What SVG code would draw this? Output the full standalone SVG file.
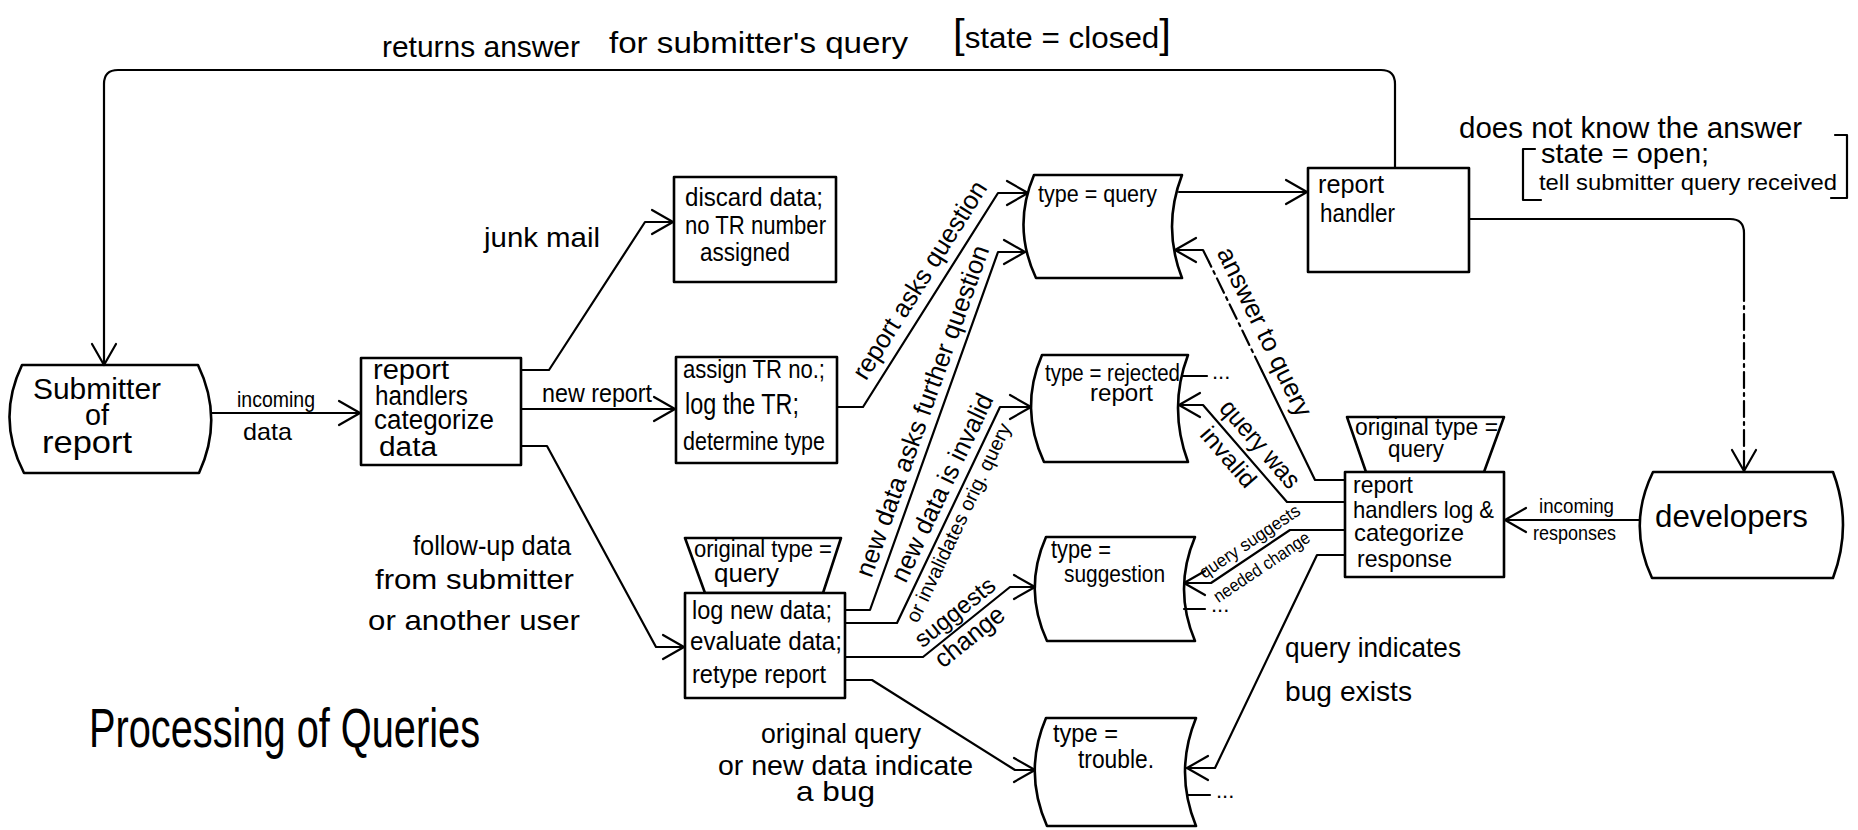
<svg xmlns="http://www.w3.org/2000/svg" width="1858" height="830" viewBox="0 0 1858 830">
<defs>
<style>
  text{font-family:"Liberation Sans",Arial,sans-serif;fill:#000}
  .ln{fill:none;stroke:#000;stroke-width:2.2;stroke-linejoin:round;stroke-linecap:round}
  .dd{stroke-dasharray:16 5 3 5}
  .bx{fill:#fff;stroke:#000;stroke-width:2.6;stroke-linejoin:round}
  .a{marker-end:url(#arr)}
  .s18{font-size:18px}.s20{font-size:20px}.s22{font-size:22px}.s23{font-size:23px}.s24{font-size:24px}
  .s25{font-size:25px}.s26{font-size:26px}.s27{font-size:27px}.s28{font-size:28px}.s30{font-size:30px}
  .s32{font-size:32px}.s56{font-size:56px}
</style>
<marker id="arr" viewBox="-24 -15 28 30" refX="0" refY="0" markerWidth="28" markerHeight="30" markerUnits="userSpaceOnUse" orient="auto">
  <path d="M-21,-12 L0,0 L-21,12" fill="none" stroke="#000" stroke-width="2.2" stroke-linejoin="round" stroke-linecap="round"/>
</marker>
</defs>
<rect width="1858" height="830" fill="#fff"/>

<!-- nodes -->
<g id="submitter">
  <path class="bx" d="M22,365 H198 Q224,419 199,473 H24 Q-4,419 22,365 Z"/>
  <text class="s30" x="33" y="399" textLength="128" lengthAdjust="spacingAndGlyphs">Submitter</text>
  <text class="s30" x="85" y="425" textLength="24" lengthAdjust="spacingAndGlyphs">of</text>
  <text class="s32" x="42" y="453" textLength="90" lengthAdjust="spacingAndGlyphs">report</text>
</g>

<g id="categorize">
  <rect class="bx" x="361" y="358" width="160" height="107"/>
  <text class="s27" x="373" y="379" textLength="76" lengthAdjust="spacingAndGlyphs">report</text>
  <text class="s27" x="375" y="405" textLength="93" lengthAdjust="spacingAndGlyphs">handlers</text>
  <text class="s27" x="374" y="429" textLength="120" lengthAdjust="spacingAndGlyphs">categorize</text>
  <text class="s27" x="379" y="456" textLength="58" lengthAdjust="spacingAndGlyphs">data</text>
</g>

<g id="discard">
  <rect class="bx" x="674" y="177" width="162" height="105"/>
  <text class="s25" x="685" y="206" textLength="138" lengthAdjust="spacingAndGlyphs">discard data;</text>
  <text class="s25" x="685" y="234" textLength="141" lengthAdjust="spacingAndGlyphs">no TR number</text>
  <text class="s25" x="700" y="261" textLength="90" lengthAdjust="spacingAndGlyphs">assigned</text>
</g>

<g id="assign">
  <rect class="bx" x="676" y="357" width="161" height="106"/>
  <text class="s25" x="683" y="378" textLength="142" lengthAdjust="spacingAndGlyphs">assign TR no.;</text>
  <text class="s30" x="685" y="414" textLength="114" lengthAdjust="spacingAndGlyphs">log the TR;</text>
  <text class="s25" x="683" y="450" textLength="142" lengthAdjust="spacingAndGlyphs">determine type</text>
</g>

<g id="log-new-data">
  <path class="bx" d="M685,538 H841 L823,593 H705 Z"/>
  <text class="s23" x="694" y="557" textLength="138" lengthAdjust="spacingAndGlyphs">original type =</text>
  <text class="s25" x="714" y="582" textLength="65" lengthAdjust="spacingAndGlyphs">query</text>
  <rect class="bx" x="685" y="593" width="160" height="105"/>
  <text class="s26" x="692" y="619" textLength="140" lengthAdjust="spacingAndGlyphs">log new data;</text>
  <text class="s26" x="690" y="650" textLength="152" lengthAdjust="spacingAndGlyphs">evaluate data;</text>
  <text class="s26" x="692" y="683" textLength="134" lengthAdjust="spacingAndGlyphs">retype report</text>
</g>

<g id="type-query">
  <path class="bx" d="M1034,175 H1182 Q1162,227 1182,278 H1036 Q1012,227 1034,175 Z"/>
  <text class="s24" x="1038" y="202" textLength="119" lengthAdjust="spacingAndGlyphs">type = query</text>
</g>

<g id="type-rejected">
  <path class="bx" d="M1042,355 H1188 Q1168,408 1188,462 H1044 Q1019,408 1042,355 Z"/>
  <text class="s23" x="1045" y="381" textLength="135" lengthAdjust="spacingAndGlyphs">type = rejected</text>
  <text class="s23" x="1090" y="401" textLength="63" lengthAdjust="spacingAndGlyphs">report</text>
  <path class="ln" d="M1183,376 H1207"/>
  <text class="s22" x="1212" y="379">...</text>
</g>

<g id="type-suggestion">
  <path class="bx" d="M1046,537 H1195 Q1173,589 1195,641 H1047 Q1023,589 1046,537 Z"/>
  <text class="s26" x="1051" y="558" textLength="60" lengthAdjust="spacingAndGlyphs">type =</text>
  <text class="s24" x="1064" y="582" textLength="101" lengthAdjust="spacingAndGlyphs">suggestion</text>
  <path class="ln" d="M1184,609 H1205"/>
  <text class="s22" x="1211" y="612">...</text>
</g>

<g id="type-trouble">
  <path class="bx" d="M1046,718 H1196 Q1174,772 1196,826 H1047 Q1023,772 1046,718 Z"/>
  <text class="s26" x="1053" y="742" textLength="65" lengthAdjust="spacingAndGlyphs">type =</text>
  <text class="s26" x="1078" y="768" textLength="76" lengthAdjust="spacingAndGlyphs">trouble.</text>
  <path class="ln" d="M1188,795 H1210"/>
  <text class="s22" x="1216" y="798">...</text>
</g>

<g id="report-handler">
  <rect class="bx" x="1308" y="168" width="161" height="104"/>
  <text class="s26" x="1318" y="193" textLength="66" lengthAdjust="spacingAndGlyphs">report</text>
  <text class="s26" x="1320" y="222" textLength="75" lengthAdjust="spacingAndGlyphs">handler</text>
</g>

<g id="handlers-log-response">
  <path class="bx" d="M1347,417 H1504 L1484,472 H1366 Z"/>
  <text class="s23" x="1355" y="435" textLength="143" lengthAdjust="spacingAndGlyphs">original type =</text>
  <text class="s23" x="1388" y="457" textLength="56" lengthAdjust="spacingAndGlyphs">query</text>
  <rect class="bx" x="1345" y="472" width="159" height="105"/>
  <text class="s24" x="1353" y="493" textLength="60" lengthAdjust="spacingAndGlyphs">report</text>
  <text class="s24" x="1353" y="518" textLength="141" lengthAdjust="spacingAndGlyphs">handlers log &amp;</text>
  <text class="s24" x="1354" y="541" textLength="110" lengthAdjust="spacingAndGlyphs">categorize</text>
  <text class="s24" x="1357" y="567" textLength="95" lengthAdjust="spacingAndGlyphs">response</text>
</g>

<g id="developers">
  <path class="bx" d="M1653,472 H1833 Q1853,525 1833,578 H1652 Q1627,525 1653,472 Z"/>
  <text class="s32" x="1655" y="527" textLength="153" lengthAdjust="spacingAndGlyphs">developers</text>
</g>

<!-- connectors -->
<g id="connectors">
  <path class="ln a" d="M1395,168 V84 Q1395,70 1381,70 H118 Q104,70 104,84 V365"/>
  <path class="ln a" d="M211,413 H360"/>
  <path class="ln a" d="M521,370 H549 L645,222 H673"/>
  <path class="ln a" d="M521,409 H675"/>
  <path class="ln a" d="M521,446 H547 L656,647 H684"/>
  <path class="ln a" d="M837,407 H863 L998,193 H1028"/>
  <path class="ln a" d="M845,610 H870 L998,252 H1025"/>
  <path class="ln a" d="M845,623 H897 L1000,407 H1031"/>
  <path class="ln a" d="M845,657 H923 L1010,587 H1035"/>
  <path class="ln a" d="M845,680 H872 L1015,770 H1035"/>
  <path class="ln a" d="M1179,192 H1307"/>
  <path class="ln" d="M1469,219 H1730 Q1744,219 1744,233 V285"/>
  <path class="ln dd" d="M1744,285 V452"/>
  <path class="ln a" d="M1744,452 V471"/>
  <path class="ln a" d="M1640,520 H1505"/>
  <path class="ln" d="M1345,480 H1315 L1262,371"/>
  <path class="ln dd" d="M1262,371 L1209,262"/>
  <path class="ln a" d="M1209,262 L1203,250 H1175"/>
  <path class="ln a" d="M1345,502 H1287 L1203,405 H1179"/>
  <path class="ln a" d="M1345,530 H1290 L1211,583 H1184"/>
  <path class="ln a" d="M1345,555 H1317 L1215,768 H1187"/>
</g>

<!-- connector labels -->
<g id="labels">
  <text class="s30" x="382" y="57" textLength="198" lengthAdjust="spacingAndGlyphs">returns answer</text>
  <text class="s30" x="609" y="53" textLength="299" lengthAdjust="spacingAndGlyphs">for submitter's query</text>
  <text class="s30" x="953" y="48" textLength="218" lengthAdjust="spacingAndGlyphs"><tspan font-size="40">[</tspan>state = closed<tspan font-size="40">]</tspan></text>
  <text class="s28" x="484" y="247" textLength="116" lengthAdjust="spacingAndGlyphs">junk mail</text>
  <text class="s22" x="237" y="407" textLength="78" lengthAdjust="spacingAndGlyphs">incoming</text>
  <text class="s24" x="243" y="440" textLength="49" lengthAdjust="spacingAndGlyphs">data</text>
  <text class="s26" x="542" y="402" textLength="110" lengthAdjust="spacingAndGlyphs">new report</text>
  <text class="s28" x="413" y="555" textLength="158" lengthAdjust="spacingAndGlyphs">follow-up data</text>
  <text class="s28" x="375" y="589" textLength="199" lengthAdjust="spacingAndGlyphs">from submitter</text>
  <text class="s28" x="368" y="630" textLength="212" lengthAdjust="spacingAndGlyphs">or another user</text>
  <text class="s28" x="761" y="743" textLength="160" lengthAdjust="spacingAndGlyphs">original query</text>
  <text class="s28" x="718" y="775" textLength="255" lengthAdjust="spacingAndGlyphs">or new data indicate</text>
  <text class="s28" x="796" y="801" textLength="79" lengthAdjust="spacingAndGlyphs">a bug</text>
  <text class="s28" x="1285" y="657" textLength="176" lengthAdjust="spacingAndGlyphs">query indicates</text>
  <text class="s28" x="1285" y="701" textLength="127" lengthAdjust="spacingAndGlyphs">bug exists</text>
  <text class="s30" x="1459" y="138" textLength="343" lengthAdjust="spacingAndGlyphs">does not know the answer</text>
  <text class="s28" x="1541" y="163" textLength="168" lengthAdjust="spacingAndGlyphs">state = open;</text>
  <text class="s22" x="1539" y="190" textLength="298" lengthAdjust="spacingAndGlyphs">tell submitter query received</text>
  <path class="ln" d="M1535,149 H1523 V200 H1541"/>
  <path class="ln" d="M1835,135 H1847 V198 H1831"/>
  <text class="s20" x="1539" y="513" textLength="75" lengthAdjust="spacingAndGlyphs">incoming</text>
  <text class="s20" x="1533" y="540" textLength="83" lengthAdjust="spacingAndGlyphs">responses</text>

  <text class="s26" transform="translate(866,381.6) rotate(-57.8)" textLength="229" lengthAdjust="spacingAndGlyphs">report asks question</text>
  <text class="s26" transform="translate(871.6,578.7) rotate(-70.3)" textLength="350" lengthAdjust="spacingAndGlyphs">new data asks further question</text>
  <text class="s26" transform="translate(905.7,583.9) rotate(-64.5)" textLength="205" lengthAdjust="spacingAndGlyphs">new data is invalid</text>
  <text class="s20" transform="translate(917.6,624) rotate(-64.5)" textLength="218" lengthAdjust="spacingAndGlyphs">or invalidates orig. query</text>
  <text class="s24" transform="translate(922.5,648.4) rotate(-38.8)" textLength="96" lengthAdjust="spacingAndGlyphs">suggests</text>
  <text class="s26" transform="translate(943,669.1) rotate(-38.8)" textLength="82" lengthAdjust="spacingAndGlyphs">change</text>
  <text class="s26" transform="translate(1216.4,252.4) rotate(64)" textLength="185" lengthAdjust="spacingAndGlyphs">answer to query</text>
  <text class="s26" transform="translate(1218.3,408.9) rotate(49.1)" textLength="108" lengthAdjust="spacingAndGlyphs">query was</text>
  <text class="s24" transform="translate(1198.7,435.2) rotate(49.1)" textLength="72" lengthAdjust="spacingAndGlyphs">invalid</text>
  <text class="s18" transform="translate(1204.6,578.9) rotate(-33.9)" textLength="117" lengthAdjust="spacingAndGlyphs">query suggests</text>
  <text class="s18" transform="translate(1218.5,603.2) rotate(-33.9)" textLength="112" lengthAdjust="spacingAndGlyphs">needed change</text>
</g>

<g id="title">
  <text class="s56" x="89" y="747" textLength="391" lengthAdjust="spacingAndGlyphs">Processing of Queries</text>
</g>
</svg>
